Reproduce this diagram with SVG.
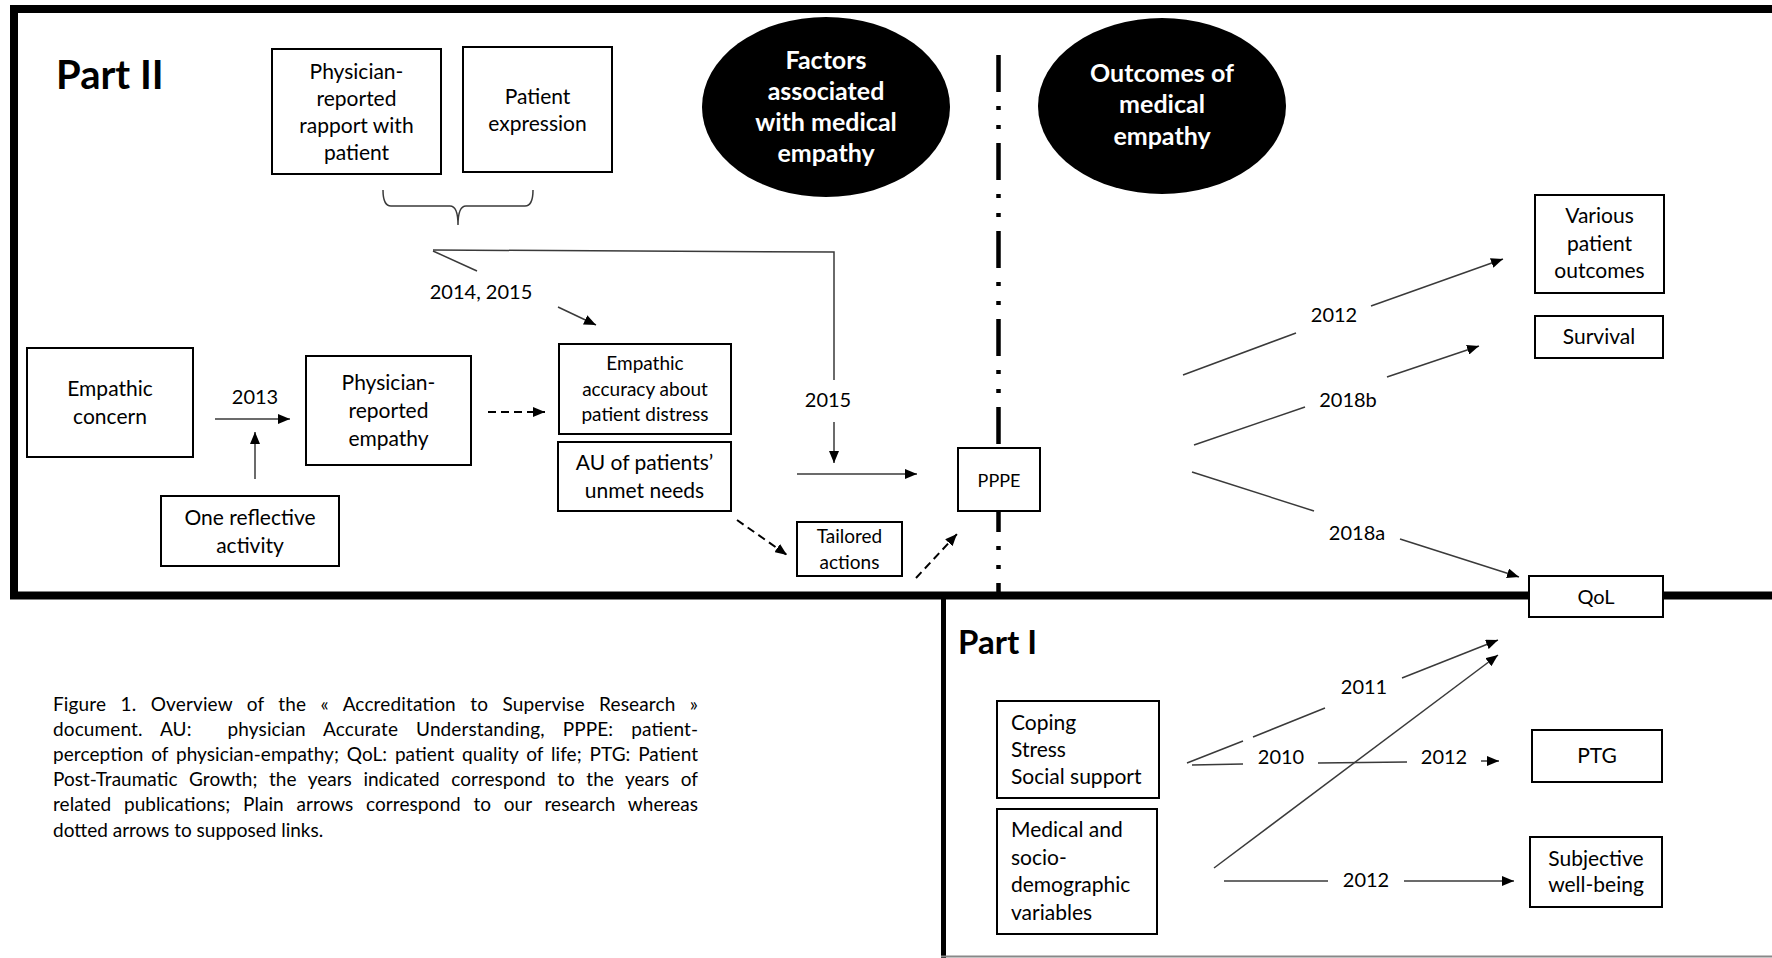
<svg xmlns="http://www.w3.org/2000/svg" width="1772" height="958" viewBox="0 0 1772 958">
<style>
.t{font-family:Lato,"Liberation Sans",sans-serif;font-size:21px;fill:#000;text-anchor:middle}
.s{font-size:19px}
.l{text-anchor:start}
.lb{font-family:Lato,"Liberation Sans",sans-serif;font-size:20px;fill:#000;text-anchor:middle}
.h{font-family:Lato,"Liberation Sans",sans-serif;font-weight:bold;font-size:25px;fill:#fff;text-anchor:middle}
.ti{font-family:Lato,"Liberation Sans",sans-serif;font-weight:bold;fill:#000}
.cap{font-family:Lato,"Liberation Sans",sans-serif;font-size:19px;fill:#000}
.box{fill:#fff;stroke:#000;stroke-width:2}
.ln{fill:none;stroke:#3a3a3a;stroke-width:1.5}
.ar{fill:none;stroke:#3a3a3a;stroke-width:1.5;marker-end:url(#ah)}
.da{fill:none;stroke:#000;stroke-width:2;stroke-dasharray:8 5;marker-end:url(#ah)}
</style>
<defs>
<marker id="ah" markerUnits="userSpaceOnUse" markerWidth="13" markerHeight="10" refX="12" refY="5" orient="auto">
<path d="M0,0 L12,5 L0,10 z" fill="#000"/>
</marker>
</defs>
<rect width="1772" height="958" fill="#fff"/>
<g id="frames">
<rect x="14" y="9" width="1800" height="586.5" fill="none" stroke="#000" stroke-width="8"/>
<line x1="943.5" y1="595" x2="943.5" y2="958" stroke="#000" stroke-width="5"/>
<line x1="941" y1="956.5" x2="1772" y2="956.5" stroke="#888" stroke-width="2"/>
<line x1="998.5" y1="55" x2="998.5" y2="592" stroke="#000" stroke-width="4.5" stroke-dasharray="37 14 4 15 4 14"/>
</g>
<text class="ti" x="56" y="89" font-size="40">Part II</text>
<text class="ti" x="958" y="654" font-size="33">Part I</text>
<g id="connectors">
<path class="ln" d="M383,190 Q383,206 391,206 L450,206 Q458,206 458,225 Q458,206 466,206 L525,206 Q533,206 533,190"/>
<path class="ln" d="M433,250 L834,252 L834,380"/>
<path class="ar" d="M834,422 L834,463"/>
<path class="ln" d="M433,251 L477,271"/>
<path class="ar" d="M558,307 L596,325"/>
<path class="ar" d="M797,474 L917,474"/>
<path class="ar" d="M215,419 L290,419"/>
<path class="ar" d="M255,479 L255,432"/>
<path class="da" d="M488,412 L545,412"/>
<path class="da" d="M737,520 L787,555"/>
<path class="da" d="M916,578 L957,534"/>
<path class="ln" d="M1183,375 L1296,333"/>
<path class="ar" d="M1371,306 L1503,259"/>
<path class="ln" d="M1194,445 L1305,407"/>
<path class="ar" d="M1387,377 L1479,346"/>
<path class="ln" d="M1192,472 L1314,511"/>
<path class="ar" d="M1400,539 L1519,577"/>
<path class="ln" d="M1187,763 L1243,741 M1253,737 L1325,708"/>
<path class="ar" d="M1402,678 L1498,640"/>
<path class="ln" d="M1192,765 L1243,764 M1318,763 L1407,762"/>
<path class="ar" d="M1481,761 L1499,761"/>
<path class="ar" d="M1214,868 L1498,655"/>
<path class="ln" d="M1224,881 L1328,881"/>
<path class="ar" d="M1404,881 L1514,881"/>
<text class="lb" x="481" y="299">2014, 2015</text>
<text class="lb" x="255" y="404">2013</text>
<text class="lb" x="828" y="407">2015</text>
<text class="lb" x="1334" y="322">2012</text>
<text class="lb" x="1348" y="407">2018b</text>
<text class="lb" x="1357" y="540">2018a</text>
<text class="lb" x="1364" y="694">2011</text>
<text class="lb" x="1281" y="764">2010</text>
<text class="lb" x="1444" y="764">2012</text>
<text class="lb" x="1366" y="887">2012</text>
</g>
<g id="n-rapport">
<rect class="box" x="272" y="49" width="169" height="125"/>
<text class="t" x="356.5" y="79">Physician-</text>
<text class="t" x="356.5" y="106">reported</text>
<text class="t" x="356.5" y="133">rapport with</text>
<text class="t" x="356.5" y="160">patient</text>
</g>
<g id="n-expression">
<rect class="box" x="463" y="47" width="149" height="125"/>
<text class="t" x="537.5" y="104">Patient</text>
<text class="t" x="537.5" y="131">expression</text>
</g>
<g id="n-factors">
<ellipse cx="826" cy="107" rx="124" ry="90" fill="#000"/>
<text class="h" x="826" y="69">Factors</text>
<text class="h" x="826" y="100">associated</text>
<text class="h" x="826" y="131">with medical</text>
<text class="h" x="826" y="162">empathy</text>
</g>
<g id="n-outcomes">
<ellipse cx="1162" cy="106" rx="124" ry="88" fill="#000"/>
<text class="h" x="1162" y="82">Outcomes of</text>
<text class="h" x="1162" y="113">medical</text>
<text class="h" x="1162" y="145">empathy</text>
</g>
<g id="n-concern">
<rect class="box" x="27" y="348" width="166" height="109"/>
<text class="t" x="110" y="396">Empathic</text>
<text class="t" x="110" y="424">concern</text>
</g>
<g id="n-reflective">
<rect class="box" x="161" y="496" width="178" height="70"/>
<text class="t" x="250" y="525">One reflective</text>
<text class="t" x="250" y="553">activity</text>
</g>
<g id="n-physemp">
<rect class="box" x="306" y="356" width="165" height="109"/>
<text class="t" x="388.5" y="390">Physician-</text>
<text class="t" x="388.5" y="418">reported</text>
<text class="t" x="388.5" y="446">empathy</text>
</g>
<g id="n-accuracy">
<rect class="box" x="559" y="344" width="172" height="90"/>
<text class="t s" x="645" y="370">Empathic</text>
<text class="t s" x="645" y="396">accuracy about</text>
<text class="t s" x="645" y="421">patient distress</text>
</g>
<g id="n-au">
<rect class="box" x="558" y="442" width="173" height="69"/>
<text class="t" x="644.5" y="470">AU of patients’</text>
<text class="t" x="644.5" y="498">unmet needs</text>
</g>
<g id="n-tailored">
<rect class="box" x="797" y="522" width="105" height="54"/>
<text class="t s" x="849.5" y="543">Tailored</text>
<text class="t s" x="849.5" y="569">actions</text>
</g>
<g id="n-pppe">
<rect class="box" x="958" y="448" width="82" height="63"/>
<text class="t" x="999" y="487" style="font-size:18px">PPPE</text>
</g>
<g id="n-various">
<rect class="box" x="1535" y="195" width="129" height="98"/>
<text class="t" x="1599.5" y="223">Various</text>
<text class="t" x="1599.5" y="251">patient</text>
<text class="t" x="1599.5" y="278">outcomes</text>
</g>
<g id="n-survival">
<rect class="box" x="1535" y="316" width="128" height="42"/>
<text class="t" x="1599" y="344">Survival</text>
</g>
<g id="n-qol">
<rect class="box" x="1529" y="576" width="134" height="41"/>
<text class="t" x="1596" y="604" style="font-size:20px">QoL</text>
</g>
<g id="n-coping">
<rect class="box" x="997" y="701" width="162" height="97"/>
<text class="t l" x="1011" y="730">Coping</text>
<text class="t l" x="1011" y="757">Stress</text>
<text class="t l" x="1011" y="784">Social support</text>
</g>
<g id="n-medical">
<rect class="box" x="997" y="809" width="160" height="125"/>
<text class="t l" x="1011" y="837">Medical and</text>
<text class="t l" x="1011" y="865">socio-</text>
<text class="t l" x="1011" y="892">demographic</text>
<text class="t l" x="1011" y="920">variables</text>
</g>
<g id="n-ptg">
<rect class="box" x="1532" y="730" width="130" height="52"/>
<text class="t" x="1597" y="763">PTG</text>
</g>
<g id="n-subjective">
<rect class="box" x="1530" y="837" width="132" height="70"/>
<text class="t" x="1596" y="866">Subjective</text>
<text class="t" x="1596" y="892">well-being</text>
</g>
<g id="caption" class="cap">
<text x="53" y="711" style="word-spacing:9.4px" textLength="645" lengthAdjust="spacing">Figure 1. Overview of the « Accreditation to Supervise Research »</text>
<text x="53" y="736" xml:space="preserve" style="word-spacing:13px;white-space:pre" textLength="645" lengthAdjust="spacing">document. AU:  physician Accurate Understanding, PPPE: patient-</text>
<text x="53" y="761" style="word-spacing:2.8px" textLength="645" lengthAdjust="spacing">perception of physician-empathy; QoL: patient quality of life; PTG: Patient</text>
<text x="53" y="786" style="word-spacing:6.7px" textLength="645" lengthAdjust="spacing">Post-Traumatic Growth; the years indicated correspond to the years of</text>
<text x="53" y="811" style="word-spacing:7.7px" textLength="645" lengthAdjust="spacing">related publications; Plain arrows correspond to our research whereas</text>
<text x="53" y="837">dotted arrows to supposed links.</text>
</g>
</svg>
